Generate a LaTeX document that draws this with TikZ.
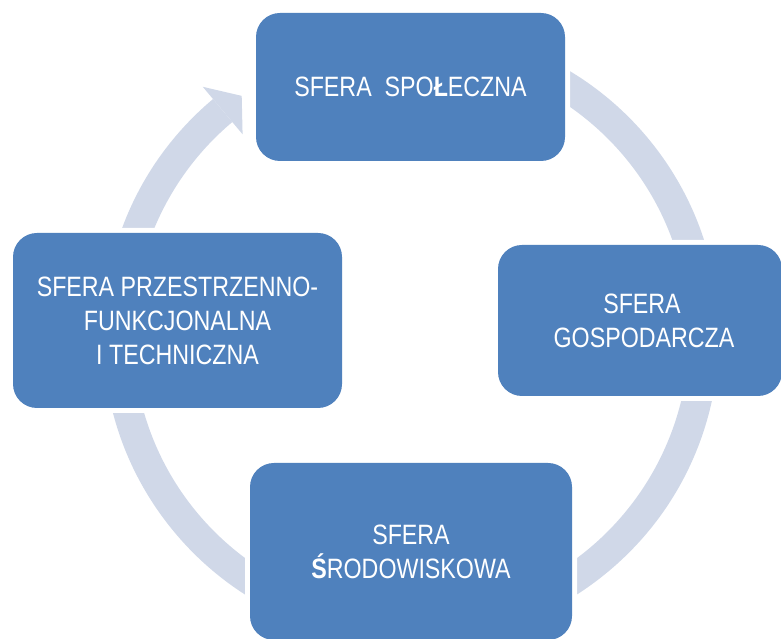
\documentclass[tikz,border=0pt]{standalone}
\usepackage{fontspec}
\setmainfont{Liberation Sans}[FakeStretch=0.83]
\usetikzlibrary{calc}
\definecolor{boxblue}{HTML}{4F81BD}
\definecolor{ringcol}{HTML}{D0D8E8}
\begin{document}
\begin{tikzpicture}[x=1pt,y=1pt,
  sphere/.style={fill=boxblue, rounded corners=24pt, text=white, align=center,
    inner sep=0pt, font=\fontsize{28}{34}\selectfont,
    preaction={draw=white, line width=10pt}},
  ring/.style={fill=ringcol, draw=none}]
\useasboundingbox (0,0) rectangle (781,639);
\coordinate (C) at (411,304);
% ring band
\fill[ring] ($(C)+(130:308)$) arc[start angle=130,end angle=460,radius=308]
  -- ($(C)+(100:278)$) arc[start angle=460,end angle=130,radius=278] -- cycle;
% arrow head
\fill[ring] ($(C)+(130:324)$) -- ($(C)+(125.3:293)$) -- ($(C)+(130:262)$) -- cycle;
% boxes
\node[sphere, minimum width=309pt, minimum height=148pt] (spol) at (410.5,552)
  {SFERA\ \ SPO{\bfseries Ł}ECZNA};
\node[sphere, minimum width=284pt, minimum height=151pt] (gosp) at (640,318.5)
  {\hspace*{4pt}SFERA\\\hspace*{8pt}GOSPODARCZA};
\node[sphere, minimum width=322pt, minimum height=177pt] (srod) at (411,87.5)
  {SFERA\\{\bfseries Ś}RODOWISKOWA};
\node[sphere, minimum width=329pt, minimum height=175pt] (prze) at (177.5,318.5)
  {SFERA PRZESTRZENNO-\\FUNKCJONALNA\\I TECHNICZNA};
\end{tikzpicture}
\end{document}
